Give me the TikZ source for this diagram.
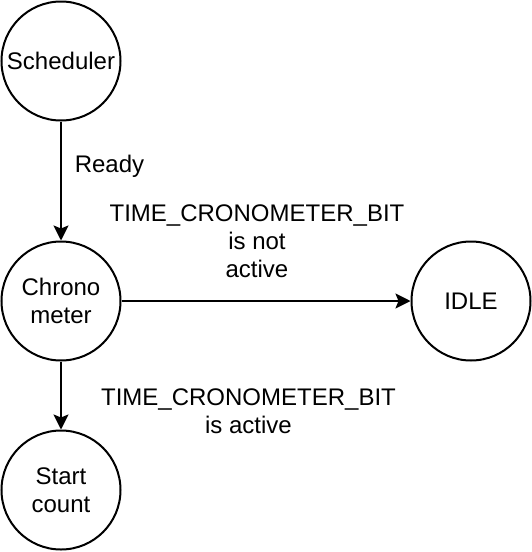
\documentclass[tikz,border=0pt]{standalone}
\usepackage{fontspec}
\setmainfont{Liberation Sans}
\usepackage{tikz}
\usetikzlibrary{arrows.meta, positioning}

\begin{document}
\begin{tikzpicture}[
        x=1pt, y=-1pt,
        font=\fontsize{24}{28}\selectfont,
        statecircle/.style={draw, circle, line width=2pt, minimum size=119pt, inner sep=0pt, align=center},
        lbl/.style={align=center, inner sep=0pt},
        arr/.style={-{Stealth[length=15pt, width=15pt, inset=3pt]}, line width=2pt, color=black}
      ]
        \useasboundingbox (0,0) rectangle (532,552);

        \node[statecircle] (sched) at (61,61) {Scheduler};
        \node[statecircle] (chrono) at (61,301) {Chrono\\meter};
        \node[statecircle] (start) at (61,490) {Start\\count};
        \node[statecircle] (idle) at (471,301) {IDLE};

        \node[lbl] (ready) at (109.5,166) {Ready};
        \node[lbl] (notactive) at (257,241.5) {TIME\_CRONOMETER\_BIT\\is not\\active};
        \node[lbl] (isactive) at (248.5,411) {TIME\_CRONOMETER\_BIT\\is active};

        \draw[arr] (sched) -- (chrono);
        \draw[arr] (chrono) -- (idle);
        \draw[arr] (chrono) -- (start);
      \end{tikzpicture}
\end{document}
